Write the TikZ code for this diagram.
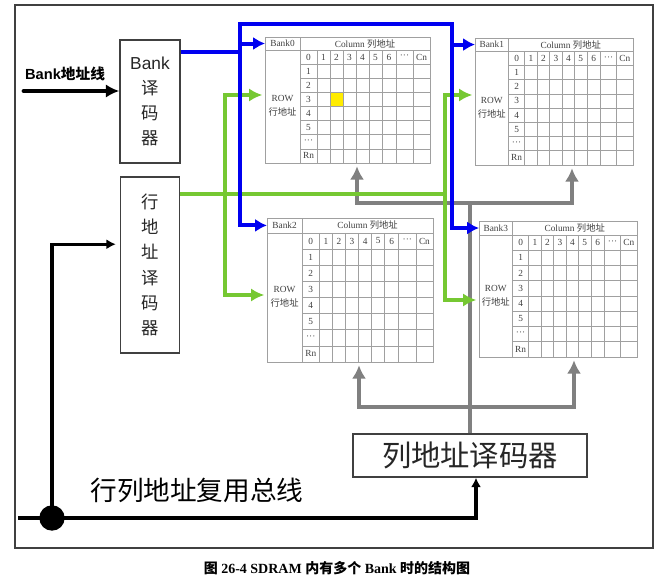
\documentclass[tikz,border=0pt]{standalone}
\usepackage{fontspec}
\setmainfont{Liberation Serif}
\setsansfont{Liberation Sans}
\newfontfamily\cjk{Noto Sans CJK SC}
\usepackage{tikz}
\usetikzlibrary{arrows.meta}
\usetikzlibrary{calc,positioning}

\definecolor{busblue}{RGB}{0,0,240}
\definecolor{rowgreen}{RGB}{118,200,50}
\definecolor{colgray}{RGB}{128,128,128}
\definecolor{gridgray}{RGB}{160,160,160}
\definecolor{cellyellow}{RGB}{255,236,0}
\definecolor{framegray}{RGB}{64,64,64}

% one bank array: name, x, y, width, height, label
\newcommand{\banktable}[6]{%
  \node[inner sep=0pt, minimum width=#4*0.75pt, minimum height=#5*0.75pt, anchor=north west] (#1) at (#2,#3) {};
  \begin{scope}[shift={(#2,#3)}, xscale=#4/165, yscale=#5/126]
    \coordinate (#1-hdr) at (0,6.5);
    \path [gridline] (0,0) rectangle (165,126) (0,13) -- (165,13) (35,0) -- (35,126);
    \foreach \y in {27.1,41.3,55.4,69.5,83.6,97.8,111.9}
      \path [gridline] (35,\y) -- (165,\y);
    \foreach \x in {52,65,78,91,104,117,131,148}
      \path [gridline] (\x,13) -- (\x,126);
    \node [cell] at (17.5,6.5) {#6};
    \node [cell] at (100,6.5) {Column {\cjk 列地址}};
    \node [cell, align=center, font=\fontsize{7}{10.5}\selectfont] at (17.5,69) {ROW\\{\cjk 行地址}};
    \foreach \y/\lbl in {20.1/0,34.2/1,48.3/2,62.4/3,76.6/4,90.7/5,104.8/···,118.9/Rn}
      \node [cell] at (43.5,\y) {\lbl};
    \foreach \x/\lbl in {58.5/1,71.5/2,84.5/3,97.5/4,110.5/5,124/6,139.5/···,156.5/Cn}
      \node [cell] at (\x,20.1) {\lbl};
  \end{scope}}

\begin{document}
\begin{tikzpicture}[x=0.75pt, y=-0.75pt]
        \tikzstyle{block} = [rectangle, draw=framegray, line width=1.1pt, inner sep=0pt, align=center, text=black!85]
        \tikzstyle{gridline} = [draw=gridgray, line width=0.5pt]
        \tikzstyle{cell} = [inner sep=0pt, text=black!75, font=\fontsize{7}{8}\selectfont]
        \tikzstyle{blueline} = [draw=busblue, line width=3pt]
        \tikzstyle{greenline} = [draw=rowgreen, line width=3pt]
        \tikzstyle{grayline} = [draw=colgray, line width=3.4pt]
        \tikzstyle{blackline} = [draw=black, line width=2.6pt]
        \tikzstyle{bluearrow} = [blueline, -{Latex[length=9pt, width=10pt]}]
        \tikzstyle{bothblue} = [blueline, {Latex[length=9pt, width=10pt]}-{Latex[length=9pt, width=10pt]}]
        \tikzstyle{bothgreen} = [greenline, {Latex[length=10pt, width=10pt]}-{Latex[length=10pt, width=10pt]}, shorten <=2pt, shorten >=2pt]
        \tikzstyle{bothgray} = [grayline, {Latex[length=10pt, width=10.5pt]}-{Latex[length=10pt, width=10.5pt]}, shorten <=2pt, shorten >=2pt]

        \useasboundingbox (0,0) rectangle (662,578);
        \draw [framegray, line width=0.8pt] (15,5) rectangle (653,548);

        \node [block, minimum width=45pt, minimum height=92.25pt, font=\cjk\fontsize{13}{18.75}\selectfont] (bankdec) at (150,101.5) {{\sffamily Bank}\\译\\码\\器};
        \node [block, below of=bankdec, node distance=122.6pt, minimum width=44.25pt, minimum height=132pt, font=\cjk\fontsize{13}{18.9}\selectfont] (rowdec) {行\\地\\址\\译\\码\\器};
        \node [block, minimum width=175.5pt, minimum height=32.25pt, font=\cjk\fontsize{22}{26}\selectfont] (coldec) at (470,455.5) {列地址译码器};
        \node [font=\sffamily\bfseries\fontsize{11}{13}\selectfont] (addrlabel) at (65,74) {Bank{\cjk\bfseries 地址线}};
        \node [font=\cjk\fontsize{20}{24}\selectfont] (buslabel) at (197,490) {行列地址复用总线};
        \node [font=\bfseries\fontsize{10.5}{12}\selectfont] (caption) at (337,568) {{\cjk 图} 26-4 SDRAM {\cjk 内有多个} Bank {\cjk 时的结构图}};

        \banktable{bank0}{265}{37}{165}{126}{Bank0}
        \banktable{bank1}{475}{38}{158}{127}{Bank1}
        \banktable{bank2}{267}{218}{166}{144}{Bank2}
        \banktable{bank3}{479}{221}{158}{136}{Bank3}
        \fill [cellyellow] ($(bank0.north west)+(65.5,55.9)$) rectangle ($(bank0.north west)+(77.5,69)$);

        \coordinate (bankout) at ([yshift=-9.75pt]bankdec.north east);
        \coordinate (rowout) at ([yshift=-13.5pt]rowdec.north east);
        \coordinate (rowin) at ([yshift=-51pt]rowdec.north west);
        \coordinate (colin) at ([xshift=4.5pt]coldec.south);
        \coordinate (addrstart) at (24,91);
        \coordinate (busleft) at (18,518);
        \coordinate (busdot) at (52,518);
        \coordinate (bluetl) at (240,24);
        \coordinate (bluetr) at (452,24);
        \coordinate (greenl0) at (225,95);
        \coordinate (greenl2) at (225,295);
        \coordinate (greenr1) at (445,95);
        \coordinate (greenr3) at (445,300);
        \coordinate (graytl) at (357,203);
        \coordinate (graytr) at (572,203);
        \coordinate (graybl) at (359,407);
        \coordinate (graybr) at (574,407);

        \path [grayline] (coldec.north) -- (coldec.north |- graytl);
        \path [bothgray] (graytl |- bank0.south) -- (graytl) -- (graytr) -- (graytr |- bank1.south);
        \path [bothgray] (graybl |- bank2.south) -- (graybl) -- (graybr) -- (graybr |- bank3.south);

        \path [greenline] (rowout) -- (rowout -| greenr1);
        \path [bothgreen] (greenl0 -| bank0.west) -- (greenl0) -- (greenl2) -- (greenl2 -| bank2.west);
        \path [bothgreen] (greenr1 -| bank1.west) -- (greenr1) -- (greenr3) -- (greenr3 -| bank3.west);

        \path [blueline] (bankout) -- (bankout -| bluetl);
        \path [bothblue] (bank2-hdr) -| (bluetl) -- (bluetr) |- (bank3-hdr);
        \path [bluearrow] (bluetl |- bank0-hdr) -- (bank0-hdr);
        \path [bluearrow] (bluetr |- bank1-hdr) -- (bank1-hdr);

        \path [draw, line width=3.6pt, line cap=round, -{Latex[length=10pt, width=10pt]}] (addrstart) -- (addrstart -| bankdec.west);
        \path [blackline, -{Latex[length=7pt, width=7.5pt]}] (busleft) -| (colin);
        \path [blackline, -{Latex[length=7pt, width=7.5pt]}, shorten >=3pt] (busdot) |- (rowin);
        \fill (busdot) circle [radius=9.5pt];
\end{tikzpicture}
\end{document}
